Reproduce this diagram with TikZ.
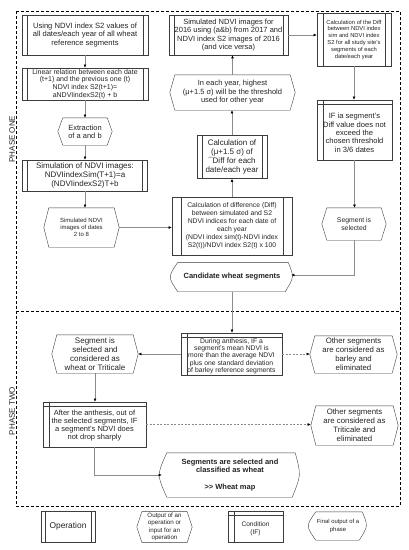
\documentclass[tikz,border=0pt]{standalone}
\usepackage{fontspec}
\setmainfont{Liberation Sans}
\usepackage{tikz}
\usetikzlibrary{arrows.meta,calc,positioning}
\definecolor{boxline}{RGB}{60,60,60}
\definecolor{linkgray}{RGB}{140,140,140}
\definecolor{txtgray}{RGB}{35,35,35}
\newcommand{\fsz}[2]{\fontsize{#1}{#2}\selectfont}
\newcommand{\topgap}[1]{\rule{0pt}{#1}}
\tikzset{>=stealth}
\tikzset{%
    op/.style={draw=boxline, align=center, inner sep=1pt, text=txtgray,
        path picture={%
            \draw[boxline] ([xshift=#1]path picture bounding box.north west) -- ([xshift=#1]path picture bounding box.south west);
            \draw[boxline] ([xshift=-#1]path picture bounding box.north east) -- ([xshift=-#1]path picture bounding box.south east);}},
    op/.default=5pt,
    cond/.style={draw=boxline, align=center, inner sep=1pt, text=txtgray,
        path picture={%
            \draw[boxline] ([yshift=-4pt]path picture bounding box.north west) -- ([yshift=-4pt]path picture bounding box.north east);
            \draw[boxline] ([xshift=6pt]path picture bounding box.north west) -- ([xshift=6pt]path picture bounding box.south west);}},
    hexa/.style={align=center, inner sep=1pt, text=txtgray},
    fin/.style={align=center, inner sep=1pt, text=txtgray},
    link/.style={draw=linkgray, line width=0.5pt, -{Latex[length=3.2pt,width=2.8pt,color=black]}},
    dlink/.style={link, dash pattern=on 2pt off 1.5pt},
    phaseframe/.style={draw=black, line width=0.9pt, dash pattern=on 3pt off 2pt}
}
% outlines of the hexagons and of the final outputs
\newcommand{\hexout}[1]{%
    \draw[boxline, line join=round] (#1.west) -- ([xshift=5pt]#1.north west) -- ([xshift=-5pt]#1.north east) -- (#1.east)
        -- ([xshift=-5pt]#1.south east) -- ([xshift=5pt]#1.south west) -- cycle;}
\newcommand{\finout}[1]{%
    \draw[boxline, line join=round] ([xshift=5pt]#1.north west) -- ([xshift=-3pt]#1.north east)
        .. controls ([xshift=3pt]#1.east) .. ([xshift=-6pt]#1.south east)
        -- ([xshift=5pt]#1.south west)
        .. controls ([xshift=-5pt]#1.west) .. ([xshift=5pt]#1.north west);}

\begin{document}
\begin{tikzpicture}[x=1pt,y=-1pt]
    \useasboundingbox (0,0) rectangle (408,550);
    % phases
    \draw[phaseframe] (16,11) rectangle (400,506);
    \draw[phaseframe] (16,311) -- (400,311);
    \node[rotate=90, font=\fsz{8}{9.6}, text=txtgray] (phone) at (12,139) {PHASE ONE};
    \node[rotate=90, font=\fsz{8}{9.6}, text=txtgray] (phtwo) at (12,411) {PHASE TWO};

    % phase one
    \node[op, minimum width=126pt, minimum height=40pt, font=\fsz{7.6}{8.7}] (ndvi) at (85,35) {Using NDVI index S2 values of\\all dates/each year of all wheat\\reference segments};
    \node[op, minimum width=126pt, minimum height=32pt, font=\fsz{7}{7.7}] (linrel) at (85,84) {Linear relation between each date\\(t+1) and the previous one (t)\\NDVI index S2(t+1)=\\aNDVIindexS2(t) + b};
    \node[hexa, minimum width=54pt, minimum height=27pt, font=\fsz{7.5}{8.3}] (extr) at (85,131.5) {Extraction\\of a and b};
    \node[op, minimum width=125pt, minimum height=31pt, font=\fsz{8}{9}] (sim) at (85,175.5) {Simulation of NDVI images:\\NDVIindexSim(T+1)=a\\(NDVIindexS2)T+b};
    \node[hexa, minimum width=75pt, minimum height=39pt, font=\fsz{6}{7}] (simout) at (81.5,227.5) {Simulated NDVI\\images of dates\\2 to 8};
    \node[op=9pt, minimum width=120pt, minimum height=58pt, font=\fsz{6.8}{8}] (diff) at (232,226) {Calculation of difference (Diff)\\between simulated and S2\\NDVI indices for each date of\\each year\\(NDVI index sim(t)-NDVI index\\S2(t))/NDVI index S2(t) x 100};
    \node[op, minimum width=70pt, minimum height=43pt, font=\fsz{8}{9.2}] (musig) at (232,157) {Calculation of\\(μ+1.5 σ) of\\¯Diff for each\\date/each year};
    \node[hexa, minimum width=125pt, minimum height=35pt, font=\fsz{7.5}{8.5}] (thr) at (232.5,92.5) {In each year, highest\\(μ+1.5 σ) will be the threshold\\used for other year};
    \node[op, minimum width=119pt, minimum height=40pt, font=\fsz{7.5}{8.3}] (simyr) at (228.5,35) {Simulated NDVI images for\\2016 using (a\&b) from 2017 and\\NDVI index S2 images of 2016\\(and vice versa)};
    \node[op=6pt, minimum width=74pt, minimum height=53pt, font=\fsz{5.8}{6.8}] (diffall) at (354,39.5) {Calculation of the Diff\\between NDVI index\\sim and NDVI index\\S2 for all study site's\\segments of each\\date/each year};
    \node[cond, minimum width=75pt, minimum height=60pt, font=\fsz{7.6}{8.3}] (ifdiff) at (354.5,130) {\topgap{11pt}IF ia segment's\\Diff value does not\\exceed the\\chosen threshold\\in 3/6 dates};
    \node[hexa, minimum width=64pt, minimum height=32pt, font=\fsz{6.8}{8}] (sel) at (354,224) {Segment is\\selected};
    \node[fin, minimum width=118pt, minimum height=29pt, font=\fsz{7.5}{8.5}\bfseries] (cand) at (232,277) {Candidate wheat segments};

    % phase two
    \node[cond, minimum width=101pt, minimum height=42pt, font=\fsz{6.8}{7.3}] (ifanth) at (231.5,354) {\topgap{9pt}During anthesis, IF a\\segment's mean NDVI is\\more than the average NDVI\\plus one standard deviation\\of barley reference segments};
    \node[hexa, minimum width=87pt, minimum height=37pt, font=\fsz{7.8}{8.9}] (barley) at (353.5,354.5) {Other segments\\are considered as\\barley and\\eliminated};
    \node[hexa, minimum width=86pt, minimum height=38pt, font=\fsz{8}{9}] (wort) at (95,354) {Segment is\\selected and\\considered as\\wheat or Triticale};
    \node[cond, minimum width=103pt, minimum height=45pt, font=\fsz{7.5}{8.3}] (ifdrop) at (94.5,424.5) {\topgap{7.5pt}After the anthesis, out of\\the selected segments, IF\\a segment's NDVI does\\not drop sharply};
    \node[hexa, minimum width=87pt, minimum height=39pt, font=\fsz{7.8}{8.9}] (trit) at (354.5,425.5) {Other segments\\are considered as\\Triticale and\\eliminated};
    \node[fin, minimum width=136pt, minimum height=44pt, font=\fsz{7.5}{8.5}\bfseries] (wheat) at (230,475) {Segments are selected and\\classified as wheat\\[8.5pt]{>}{>} Wheat map};

    % legend
    \node[op=4pt, minimum width=54pt, minimum height=31pt, font=\fsz{8.4}{9}] (lop) at (68,526.5) {Operation};
    \node[hexa, minimum width=55pt, minimum height=30pt, font=\fsz{6.2}{7.5}] (lout) at (164.5,527) {Output of an\\operation or\\input for an\\operation};
    \node[cond, minimum width=55pt, minimum height=31pt, font=\fsz{6.6}{8}] (lcond) at (255.5,526.5) {\topgap{8.8pt}Condition\\(IF)};
    \node[fin, minimum width=54pt, minimum height=28pt, font=\fsz{5.9}{7.5}] (lfin) at (338,526) {Final output of a\\phase};

    \foreach \n in {extr,simout,thr,sel,barley,wort,trit,lout} \hexout{\n};
    \foreach \n in {cand,wheat,lfin} \finout{\n};

    % connectors
    \draw[link] (ndvi) -- (linrel);
    \draw[link] (linrel) -- (extr);
    \draw[link] (extr) -- (sim);
    \draw[link] (sim.south) -- (sim.south |- simout.north);
    \draw[link] (simout.east) -- (simout.east -| diff.west);
    \draw[link] (diff) -- (musig);
    \draw[link] (musig) -- (musig.north |- thr.south);
    \draw[link] (thr.north) -- (thr.north |- simyr.south);
    \draw[link] (simyr.east) -- (simyr.east -| diffall.west);
    \draw[link] (diffall) -- (diffall.south |- ifdiff.north);
    \draw[link] (ifdiff) -- (ifdiff.south |- sel.north);
    \draw[link] (sel.south) |- ([yshift=2pt]cand.east);
    \draw[link] (cand) -- (cand.south |- ifanth.north);
    \draw[dlink] (ifanth.east) -- (ifanth.east -| barley.west);
    \draw[link] (ifanth.west) -- (ifanth.west -| wort.east);
    \draw[link] (wort) -- (wort.south |- ifdrop.north);
    \draw[dlink] (ifdrop.east) -- (ifdrop.east -| trit.west);
    \draw[link] (ifdrop.south) |- (wheat.west);
\end{tikzpicture}
\end{document}
